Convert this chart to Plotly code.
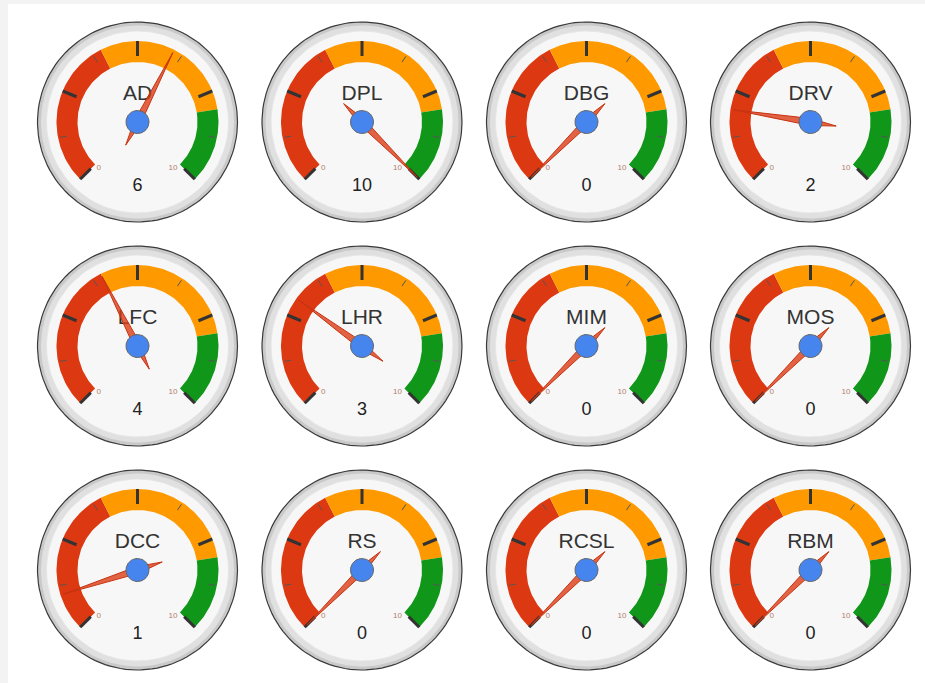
import numpy as np
import plotly.graph_objects as go

# ---- data ----
gauge_names = ["AD", "DPL", "DBG", "DRV", "LFC", "LHR", "MIM", "MOS", "DCC", "RS", "RCSL", "RBM"]
gauge_values = [6, 10, 0, 2, 4, 3, 0, 0, 1, 0, 0, 0]
scale_min = 0
scale_max = 10
red_band = [0, 4]
yellow_band = [4, 8]
green_band = [8, 10]
major_ticks = [0, 2.5, 5, 7.5, 10]
minor_ticks = [1.25, 3.75, 6.25, 8.75]
end_labels = ["0", "10"]

# ---- layout / style ----
W, H = 925, 683
col_x = [137.5, 362, 586.5, 810.5]
row_y = [122, 346, 570]
R_OUT = 100
RED, ORANGE, GREEN = "#dc3912", "#ff9900", "#109618"
FONT = "Liberation Sans, Arial, sans-serif"


def ang(v):
    return np.deg2rad(225 - 270 * (v - scale_min) / (scale_max - scale_min))


def pt(cx, cy, r, a):
    return cx + r * np.cos(a), cy - r * np.sin(a)


def circle(cx, cy, r, n=120):
    t = np.linspace(0, 2 * np.pi, n)
    return cx + r * np.cos(t), cy + r * np.sin(t)


def sector(cx, cy, r0, r1, v0, v1, n=60):
    a = np.linspace(ang(v0), ang(v1), n)
    xo, yo = pt(cx, cy, r1, a)
    xi, yi = pt(cx, cy, r0, a[::-1])
    return np.concatenate([xo, xi, xo[:1]]), np.concatenate([yo, yi, yo[:1]])


fig = go.Figure()


def poly(x, y, fill, line="rgba(0,0,0,0)", lw=0):
    fig.add_trace(go.Scatter(x=list(x), y=list(y), mode="lines", fill="toself",
                             fillcolor=fill, line=dict(color=line, width=lw),
                             hoverinfo="skip", showlegend=False))


for i, (name, val) in enumerate(zip(gauge_names, gauge_values)):
    cx = col_x[i % 4]
    cy = row_y[i // 4]
    # bezel
    x, y = circle(cx, cy, R_OUT)
    poly(x, y, "#c9c9c9", "#3a3a3a", 1.2)
    x, y = circle(cx, cy, 96.5)
    poly(x, y, "#e0e0e0")
    x, y = circle(cx, cy, 91)
    poly(x, y, "#f7f7f7", "#e6e6e6", 1)
    # bands
    for (b0, b1), col in zip([red_band, yellow_band, green_band], [RED, ORANGE, GREEN]):
        x, y = sector(cx, cy, 60, 81, b0, b1)
        poly(x, y, col)
    # ticks
    tx, ty = [], []
    for v in major_ticks:
        a = ang(v)
        x0, y0 = pt(cx, cy, 66, a)
        x1, y1 = pt(cx, cy, 81, a)
        tx += [x0, x1, None]
        ty += [y0, y1, None]
    fig.add_trace(go.Scatter(x=tx, y=ty, mode="lines", line=dict(color="#333333", width=3),
                             hoverinfo="skip", showlegend=False))
    tx, ty = [], []
    for v in minor_ticks:
        a = ang(v)
        x0, y0 = pt(cx, cy, 72, a)
        x1, y1 = pt(cx, cy, 79, a)
        tx += [x0, x1, None]
        ty += [y0, y1, None]
    fig.add_trace(go.Scatter(x=tx, y=ty, mode="lines", line=dict(color="#555555", width=1),
                             hoverinfo="skip", showlegend=False))
    # texts
    fig.add_trace(go.Scatter(x=[cx - 41, cx + 40], y=[cy + 46, cy + 46], mode="text",
                             text=end_labels, textposition=["middle right", "middle left"],
                             textfont=dict(family=FONT, size=8, color="#b08070"),
                             hoverinfo="skip", showlegend=False))
    fig.add_trace(go.Scatter(x=[cx], y=[cy - 27], mode="text", text=[name],
                             textposition="middle center",
                             textfont=dict(family=FONT, size=21, color="#333333"),
                             hoverinfo="skip", showlegend=False))
    fig.add_trace(go.Scatter(x=[cx], y=[cy + 64], mode="text", text=[str(val)],
                             textposition="middle center",
                             textfont=dict(family=FONT, size=18, color="#222222"),
                             hoverinfo="skip", showlegend=False))
    # needle
    a = ang(val)
    perp = a + np.pi / 2
    tipx, tipy = pt(cx, cy, 78, a)
    tailx, taily = pt(cx, cy, -26, a)
    s1x, s1y = pt(cx, cy, 3.5, perp)
    s2x, s2y = pt(cx, cy, -3.5, perp)
    poly([tipx, s1x, tailx, s2x, tipx], [tipy, s1y, taily, s2y, tipy],
         "rgba(220,57,18,0.78)", "#c63310", 1)
    # hub
    x, y = circle(cx, cy, 11.5, 60)
    poly(x, y, "#4684ee", "#666666", 1)

fig.update_layout(
    width=W, height=H, autosize=False,
    margin=dict(l=0, r=0, t=0, b=0),
    paper_bgcolor="white", plot_bgcolor="white",
    xaxis=dict(range=[0, W], visible=False, fixedrange=True),
    yaxis=dict(range=[H, 0], visible=False, fixedrange=True),
    shapes=[
        dict(type="rect", xref="x", yref="y", x0=0, x1=8, y0=0, y1=H, fillcolor="#f3f3f3",
             line=dict(width=0), layer="below"),
        dict(type="rect", xref="x", yref="y", x0=0, x1=W, y0=0, y1=4, fillcolor="#f3f3f3",
             line=dict(width=0), layer="below"),
    ],
)

fig.write_html("out.html", config={"displayModeBar": False},
               post_script="document.body.style.margin='0';document.body.style.overflow='hidden';")
